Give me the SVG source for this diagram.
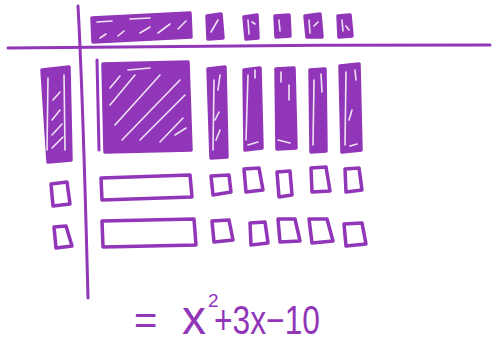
<svg xmlns="http://www.w3.org/2000/svg" width="492" height="345" viewBox="0 0 492 345">
<style>
.ln{fill:none;stroke:#9136b8;stroke-width:3;stroke-linecap:round;stroke-linejoin:round}
.fill{fill:#9136b8;stroke:#9136b8;stroke-width:3.5;stroke-linejoin:round}
.box{fill:none;stroke:#9136b8;stroke-width:3.5;stroke-linejoin:round}
.h{fill:none;stroke:#ffffff;stroke-width:1.6;stroke-linecap:round;opacity:0.85}
.eq{fill:#9136b8;font-family:"Liberation Sans","DejaVu Sans",sans-serif}
</style>
<rect width="492" height="345" fill="#ffffff"/>
<g id="axes">
<path class="ln" d="M8,48 C150,46 330,45 490,45"/>
<path class="ln" d="M78,6 C81,60 85,180 88,298"/>
</g>
<g id="top-x">
<polygon class="fill" points="92,18 190,13 191,37 93,42"/>
<path class="h" d="M100,38 L106,34 M118,36 L124,31 M140,33 L150,27 M158,33 L170,24 M178,29 L186,21 M97,22 L112,21 M130,19 L150,18"/>
</g>
<g id="top-1a"><polygon class="fill" points="207,16 221,14 223,38 208,39"/><path class="h" d="M211,32 L218,20"/></g>
<g id="top-1b"><polygon class="fill" points="244,17 257,15 258,38 246,39"/><path class="h" d="M248,20 L249,34 M252,22 L255,24"/></g>
<g id="top-1c"><polygon class="fill" points="275,16 289,15 290,36 276,37"/><path class="h" d="M279,20 L280,31"/></g>
<g id="top-1d"><polygon class="fill" points="305,16 320,14 322,37 307,37"/><path class="h" d="M309,20 L310,33 M314,26 L318,22"/></g>
<g id="top-1e"><polygon class="fill" points="338,16 350,15 352,36 339,37"/><path class="h" d="M342,20 L343,31 M346,26 L349,30"/></g>
<g id="left-x">
<polygon class="fill" points="42,70 69,67 71,160 48,162"/>
<path class="h" d="M48,78 L47,150 M64,75 L65,150 M52,120 L60,110 M52,135 L62,124 M52,148 L63,137 M53,100 L60,92"/>
</g>
<g id="x-squared">
<path class="ln" d="M97,60 L99,150"/>
<polygon class="fill" points="103,64 188,62 191,150 105,152"/>
<path class="h" d="M110,105 L135,75 M115,125 L160,75 M122,140 L180,80 M140,140 L185,95 M160,142 L183,118 M110,88 L120,76 M128,70 L150,68 M175,135 L186,128"/>
</g>
<g id="x-bar-1"><polygon class="fill" points="208,69 225,67 227,157 211,158"/><path class="h" d="M214,80 L213,150 M220,75 L218,90 M215,120 L219,112 M216,140 L220,130"/></g>
<g id="x-bar-2"><polygon class="fill" points="244,70 260,68 262,148 245,150"/><path class="h" d="M248,75 L246,140 M255,70 L255,78 M248,145 L258,142"/></g>
<g id="x-bar-3"><polygon class="fill" points="276,69 294,68 296,148 277,149"/><path class="h" d="M281,72 L281,82 M278,140 L290,143 M289,85 L289,100"/></g>
<g id="x-bar-4"><polygon class="fill" points="310,70 325,69 326,151 311,152"/><path class="h" d="M314,80 L313,145 M321,74 L322,92"/></g>
<g id="x-bar-5"><polygon class="fill" points="340,66 359,64 361,150 342,152"/><path class="h" d="M346,72 L345,145 M355,70 L356,80 M349,120 L352,110 M350,146 L357,144"/></g>
<g id="unit-l1"><polygon class="box" points="51,184 67,182 70,204 53,206"/></g>
<g id="unit-l2"><polygon class="box" points="54,227 66,226 72,246 56,248"/></g>
<g id="neg-x-1"><polygon class="box" points="101,178 190,175 192,197 102,200"/></g>
<g id="neg-x-2"><polygon class="box" points="102,221 194,219 196,245 103,247"/></g>
<g id="u1-1"><polygon class="box" points="211,176 229,175 231,192 213,195"/></g>
<g id="u1-2"><polygon class="box" points="244,169 259,168 263,190 246,192"/></g>
<g id="u1-3"><polygon class="box" points="277,172 290,171 292,195 279,197"/></g>
<g id="u1-4"><polygon class="box" points="311,168 326,167 330,191 312,192"/></g>
<g id="u1-5"><polygon class="box" points="345,169 359,168 362,190 346,192"/></g>
<g id="u2-1"><polygon class="box" points="212,221 229,220 233,240 214,242"/></g>
<g id="u2-2"><polygon class="box" points="250,223 265,222 268,243 251,245"/></g>
<g id="u2-3"><polygon class="box" points="278,219 295,219 300,241 280,242"/></g>
<g id="u2-4"><polygon class="box" points="309,219 327,219 333,241 312,243"/></g>
<g id="u2-5"><polygon class="box" points="344,224 362,223 366,244 346,246"/></g>
<g id="equation">
<text class="eq" y="334" font-size="40"><tspan x="134">=</tspan><tspan x="182" font-size="48">x</tspan><tspan x="208" y="307" font-size="19">2</tspan><tspan x="214" y="334" font-size="40" textLength="106" lengthAdjust="spacingAndGlyphs">+3x−10</tspan></text>
</g>
</svg>
